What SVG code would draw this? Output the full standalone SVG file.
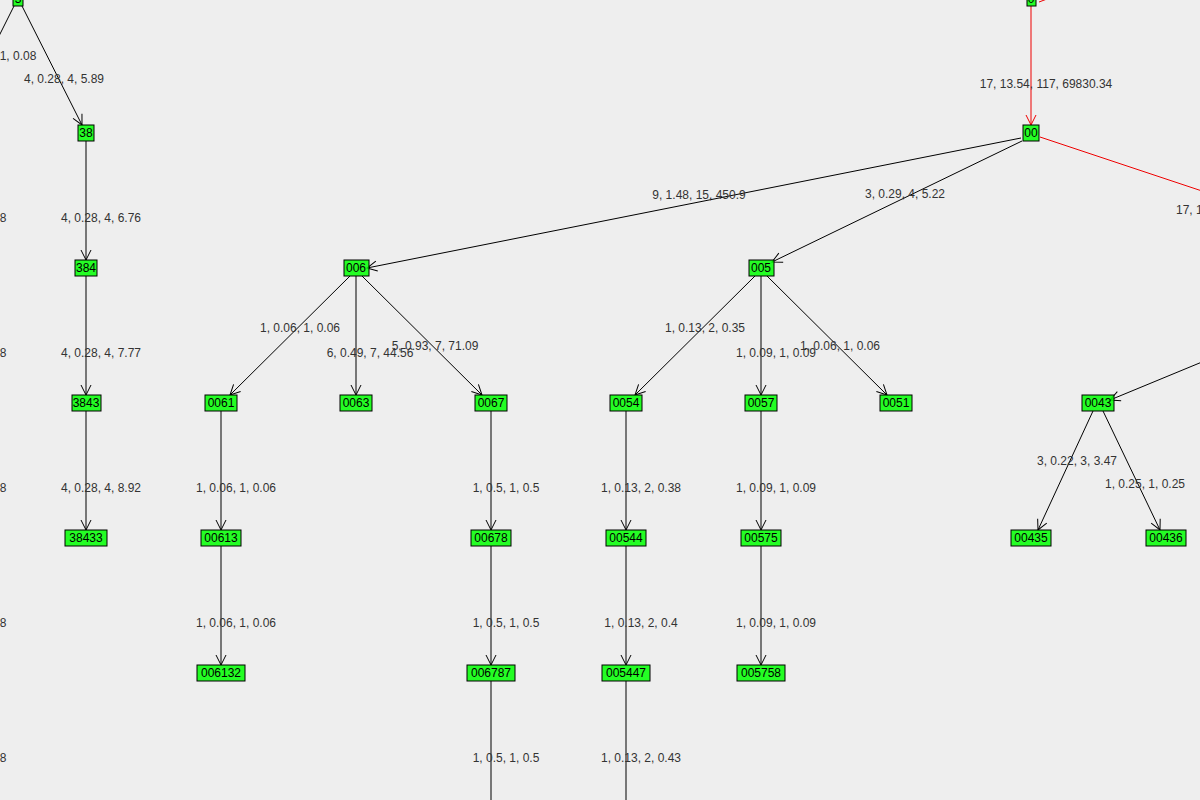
<svg xmlns="http://www.w3.org/2000/svg" width="1200" height="800" viewBox="0 0 1200 800">
<style>
.n rect{fill:#00ff00;fill-opacity:.85;stroke:#000;stroke-width:1}
.n text{font-family:"Liberation Sans",Arial,sans-serif;font-size:12px;fill:#000;text-anchor:middle}
.e line{stroke:#000;stroke-width:1;marker-end:url(#a)}
.e line.r{stroke:#e00;marker-end:url(#ar)}
.e line.nm{marker-end:none}
.l{font-family:"Liberation Sans",Arial,sans-serif;font-size:12px;fill:#333;text-anchor:middle}
</style>
<defs>
<marker id="a" markerWidth="12" markerHeight="12" refX="11" refY="6" orient="auto" markerUnits="userSpaceOnUse"><path d="M1,1 L11,6 L1,11" fill="none" stroke="#000"/></marker>
<marker id="ar" markerWidth="12" markerHeight="12" refX="11" refY="6" orient="auto" markerUnits="userSpaceOnUse"><path d="M1,1 L11,6 L1,11" fill="none" stroke="#e00"/></marker>
</defs>
<rect width="1200" height="800" fill="#eeeeee"/>
<g id="connectors" class="e">
<line class="nm" x1="14" y1="6" x2="-2" y2="38"/>
<line x1="22" y1="6" x2="82" y2="125"/>
<line x1="86" y1="141" x2="86" y2="260"/>
<line x1="86" y1="276" x2="86" y2="395"/>
<line x1="86" y1="411" x2="86" y2="530"/>
<line class="r" x1="1031" y1="6" x2="1031" y2="125"/>
<line class="r nm" x1="1039" y1="2" x2="1047" y2="-1"/>
<line class="r nm" x1="1040" y1="137" x2="1202" y2="191"/>
<line x1="1021" y1="138" x2="367" y2="268"/>
<line x1="1022" y1="141" x2="772" y2="262"/>
<line x1="350" y1="276" x2="230" y2="395"/>
<line x1="356" y1="276" x2="356" y2="395"/>
<line x1="362" y1="276" x2="482" y2="395"/>
<line x1="755" y1="276" x2="635" y2="395"/>
<line x1="761" y1="276" x2="761" y2="395"/>
<line x1="767" y1="276" x2="887" y2="395"/>
<line x1="1202" y1="362" x2="1110" y2="400"/>
<line x1="1093" y1="411" x2="1038" y2="530"/>
<line x1="1103" y1="411" x2="1160" y2="530"/>
<line x1="221" y1="411" x2="221" y2="530"/>
<line x1="491" y1="411" x2="491" y2="530"/>
<line x1="626" y1="411" x2="626" y2="530"/>
<line x1="761" y1="411" x2="761" y2="530"/>
<line x1="221" y1="546" x2="221" y2="665"/>
<line x1="491" y1="546" x2="491" y2="665"/>
<line x1="626" y1="546" x2="626" y2="665"/>
<line x1="761" y1="546" x2="761" y2="665"/>
<line class="nm" x1="491" y1="681" x2="491" y2="802"/>
<line class="nm" x1="626" y1="681" x2="626" y2="802"/>
</g>
<g id="labels">
<text class="l" x="18" y="60">1, 0.08</text>
<text class="l" x="64" y="83">4, 0.28, 4, 5.89</text>
<text class="l" x="101" y="222">4, 0.28, 4, 6.76</text>
<text class="l" x="101" y="357">4, 0.28, 4, 7.77</text>
<text class="l" x="101" y="492">4, 0.28, 4, 8.92</text>
<text class="l" x="3" y="222">8</text>
<text class="l" x="3" y="357">8</text>
<text class="l" x="3" y="492">8</text>
<text class="l" x="3" y="627">8</text>
<text class="l" x="3" y="762">8</text>
<text class="l" x="1046" y="88">17, 13.54, 117, 69830.34</text>
<text class="l" x="1176" y="214" style="text-anchor:start">17, 1</text>
<text class="l" x="699" y="199">9, 1.48, 15, 450.9</text>
<text class="l" x="905" y="198">3, 0.29, 4, 5.22</text>
<text class="l" x="300" y="332">1, 0.06, 1, 0.06</text>
<text class="l" x="370" y="357">6, 0.49, 7, 44.56</text>
<text class="l" x="435" y="350">5, 0.93, 7, 71.09</text>
<text class="l" x="705" y="332">1, 0.13, 2, 0.35</text>
<text class="l" x="776" y="357">1, 0.09, 1, 0.09</text>
<text class="l" x="840" y="350">1, 0.06, 1, 0.06</text>
<text class="l" x="1077" y="465">3, 0.22, 3, 3.47</text>
<text class="l" x="1145" y="488">1, 0.25, 1, 0.25</text>
<text class="l" x="236" y="492">1, 0.06, 1, 0.06</text>
<text class="l" x="506" y="492">1, 0.5, 1, 0.5</text>
<text class="l" x="641" y="492">1, 0.13, 2, 0.38</text>
<text class="l" x="776" y="492">1, 0.09, 1, 0.09</text>
<text class="l" x="236" y="627">1, 0.06, 1, 0.06</text>
<text class="l" x="506" y="627">1, 0.5, 1, 0.5</text>
<text class="l" x="641" y="627">1, 0.13, 2, 0.4</text>
<text class="l" x="776" y="627">1, 0.09, 1, 0.09</text>
<text class="l" x="506" y="762">1, 0.5, 1, 0.5</text>
<text class="l" x="641" y="762">1, 0.13, 2, 0.43</text>
</g>
<g id="n3" class="n"><rect x="13" y="-10" width="10" height="16"/><text x="18" y="3">3</text></g>
<g id="n38" class="n"><rect x="78" y="125" width="16" height="16"/><text x="86" y="137">38</text></g>
<g id="n384" class="n"><rect x="75" y="260" width="22" height="16"/><text x="86" y="272">384</text></g>
<g id="n3843" class="n"><rect x="72" y="395" width="29" height="16"/><text x="86" y="407">3843</text></g>
<g id="n38433" class="n"><rect x="65" y="530" width="42" height="16"/><text x="86" y="542">38433</text></g>
<g id="n0" class="n"><rect x="1027" y="-10" width="9" height="16"/><text x="1031" y="3">0</text></g>
<g id="n00" class="n"><rect x="1023" y="125" width="16" height="16"/><text x="1031" y="137">00</text></g>
<g id="n006" class="n"><rect x="344" y="260" width="25" height="16"/><text x="356" y="272">006</text></g>
<g id="n005" class="n"><rect x="749" y="260" width="25" height="16"/><text x="761" y="272">005</text></g>
<g id="n0061" class="n"><rect x="205" y="395" width="32" height="16"/><text x="221" y="407">0061</text></g>
<g id="n0063" class="n"><rect x="340" y="395" width="32" height="16"/><text x="356" y="407">0063</text></g>
<g id="n0067" class="n"><rect x="475" y="395" width="32" height="16"/><text x="491" y="407">0067</text></g>
<g id="n0054" class="n"><rect x="610" y="395" width="32" height="16"/><text x="626" y="407">0054</text></g>
<g id="n0057" class="n"><rect x="745" y="395" width="32" height="16"/><text x="761" y="407">0057</text></g>
<g id="n0051" class="n"><rect x="880" y="395" width="32" height="16"/><text x="896" y="407">0051</text></g>
<g id="n0043" class="n"><rect x="1082" y="395" width="32" height="16"/><text x="1098" y="407">0043</text></g>
<g id="n00613" class="n"><rect x="201" y="530" width="40" height="16"/><text x="221" y="542">00613</text></g>
<g id="n00678" class="n"><rect x="471" y="530" width="40" height="16"/><text x="491" y="542">00678</text></g>
<g id="n00544" class="n"><rect x="606" y="530" width="40" height="16"/><text x="626" y="542">00544</text></g>
<g id="n00575" class="n"><rect x="741" y="530" width="40" height="16"/><text x="761" y="542">00575</text></g>
<g id="n00435" class="n"><rect x="1011" y="530" width="40" height="16"/><text x="1031" y="542">00435</text></g>
<g id="n00436" class="n"><rect x="1146" y="530" width="40" height="16"/><text x="1166" y="542">00436</text></g>
<g id="n006132" class="n"><rect x="197" y="665" width="48" height="16"/><text x="221" y="677">006132</text></g>
<g id="n006787" class="n"><rect x="467" y="665" width="48" height="16"/><text x="491" y="677">006787</text></g>
<g id="n005447" class="n"><rect x="602" y="665" width="48" height="16"/><text x="626" y="677">005447</text></g>
<g id="n005758" class="n"><rect x="737" y="665" width="48" height="16"/><text x="761" y="677">005758</text></g>
</svg>
